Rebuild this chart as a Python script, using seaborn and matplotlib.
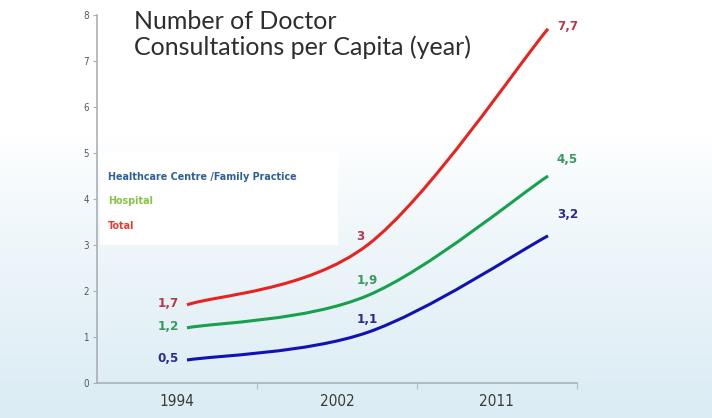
import numpy as np
import matplotlib
matplotlib.use("Agg")
import matplotlib.pyplot as plt
from matplotlib.path import Path
from matplotlib.patches import PathPatch, Rectangle
from matplotlib.colors import LinearSegmentedColormap
import seaborn as sns

# ---- data -------------------------------------------------------------
years = ["1994", "2002", "2011"]
healthcare = [0.5, 1.1, 3.2]
hospital = [1.2, 1.9, 4.5]
total = [1.7, 3.0, 7.7]
series_names = ["Healthcare Centre /Family Practice", "Hospital", "Total"]
y_ticks = [0, 1, 2, 3, 4, 5, 6, 7, 8]

# ---- style ------------------------------------------------------------
sns.set_style("white")
plt.rcParams["font.family"] = ["DejaVu Sans"]
narrow = dict(family=["DejaVu Sans"], stretch="condensed")

line_colors = {"Total": "#e8231f", "Hospital": "#17a04e", "Healthcare": "#1212b4"}
value_colors = {"Total": "#b8384a", "Hospital": "#3a9a5c", "Healthcare": "#2a2a92"}

fig = plt.figure(figsize=(7.12, 4.18), dpi=100)

# background gradient (white at the top fading into pale blue)
bg = fig.add_axes([0, 0, 1, 1], zorder=0)
bg.set_axis_off()
h = 418
rows = np.linspace(0, 1, h)
grad = np.clip((rows - 0.33) / 0.67, 0, 1)[:, None] ** 0.8
cmap = LinearSegmentedColormap.from_list("bgfade", ["#ffffff", "#dbecf4"])
bg.imshow(grad, aspect="auto", cmap=cmap, extent=[0, 1, 0, 1], origin="upper",
          vmin=0, vmax=1)
bg.set_xlim(0, 1)
bg.set_ylim(0, 1)
# white panel behind the series names
bg.add_patch(Rectangle((100 / 712, 1 - 245 / 418), 238 / 712, 92 / 418,
                       facecolor="white", edgecolor="none"))

# main plotting area
ax = fig.add_axes([97 / 712, 1 - 383 / 418, 480 / 712, 368 / 418], zorder=1)
ax.patch.set_alpha(0)
ax.set_xlim(-0.4986, 2.1607)
ax.set_ylim(0, 8)


def smooth_path(xs, ys):
    """Bezier path through the points with spreadsheet-style smoothing."""
    pts = np.column_stack([xs, ys]).astype(float)
    ext = np.vstack([pts[0], pts, pts[-1]])
    verts = [tuple(pts[0])]
    codes = [Path.MOVETO]
    for i in range(len(pts) - 1):
        p0, p1, p2, p3 = ext[i], ext[i + 1], ext[i + 2], ext[i + 3]
        c1 = p1 + (p2 - p0) / 6.0
        c2 = p2 - (p3 - p1) / 6.0
        verts += [tuple(c1), tuple(c2), tuple(p2)]
        codes += [Path.CURVE4] * 3
    return Path(verts, codes)


xpos = np.arange(len(years))
series = [("Total", total), ("Hospital", hospital), ("Healthcare", healthcare)]
for key, vals in series:
    ax.add_patch(PathPatch(smooth_path(xpos, vals), facecolor="none",
                           edgecolor=line_colors[key], lw=2.2,
                           capstyle="butt", zorder=3))


def fmt(v):
    return f"{v:.1f}".replace(".", ",") if v != int(v) else f"{int(v)}"


# value labels: start, middle and end of each curve
mid_offsets = {"Total": (-5, 6), "Hospital": (0, 11), "Healthcare": (0, 9)}
end_offsets = {"Total": (7, 2), "Hospital": (6, 12), "Healthcare": (7, 15)}
for key, vals in series:
    c = value_colors[key]
    kw = dict(textcoords="offset points", color=c, fontsize=9.5,
              fontweight="bold", va="center", **narrow)
    ax.annotate(fmt(vals[0]), (xpos[0], vals[0]),
                xytext=(-6, 1), ha="right", **kw)
    ax.annotate(fmt(vals[1]), (xpos[1], vals[1]),
                xytext=mid_offsets[key], ha="center", **kw)
    ax.annotate(fmt(vals[2]), (xpos[2], vals[2]),
                xytext=end_offsets[key], ha="left", **kw)

# axes styling
sns.despine(ax=ax)
for side in ("left", "bottom"):
    ax.spines[side].set_color("#a9b0b4")
    ax.spines[side].set_linewidth(1.2)

ax.set_yticks(y_ticks)
ax.set_yticklabels([str(t) for t in y_ticks], fontsize=7, color="#555555",
                   **narrow)
ax.tick_params(axis="y", direction="out", length=3, width=0.8,
               color="#a9b0b4", pad=3, left=True)

# year labels sit between the category separators
label_pos = [-0.055, 0.831, 1.717]
sep_pos = [0.388, 1.274, 2.16]
ax.set_xticks(label_pos)
ax.set_xticklabels(years, fontsize=11, color="#3a3a3a", **narrow)
ax.tick_params(axis="x", length=0, pad=8)
ax.set_xticks(sep_pos, minor=True)
ax.tick_params(axis="x", which="minor", direction="out", length=4,
               width=0.8, color="#b5bcc0", bottom=True)
ax.grid(False)

# legend-style series names
legend_colors = ["#2f5f9e", "#86c441", "#e83a35"]
for i, (name, col) in enumerate(zip(series_names, legend_colors)):
    fig.text(108 / 712, 1 - (177 + 24.5 * i) / 418, name, fontsize=6.9,
             fontweight="bold", color=col, va="center", ha="left",
             family=["DejaVu Sans"])

# title
fig.text(134 / 712, 1 - 10 / 418,
         "Number of Doctor\nConsultations per Capita (year)",
         fontsize=18, color="#2e2e2e", va="top", ha="left",
         family=["Lato", "DejaVu Sans"], linespacing=1.12)

fig.savefig("out.png", dpi=100)
